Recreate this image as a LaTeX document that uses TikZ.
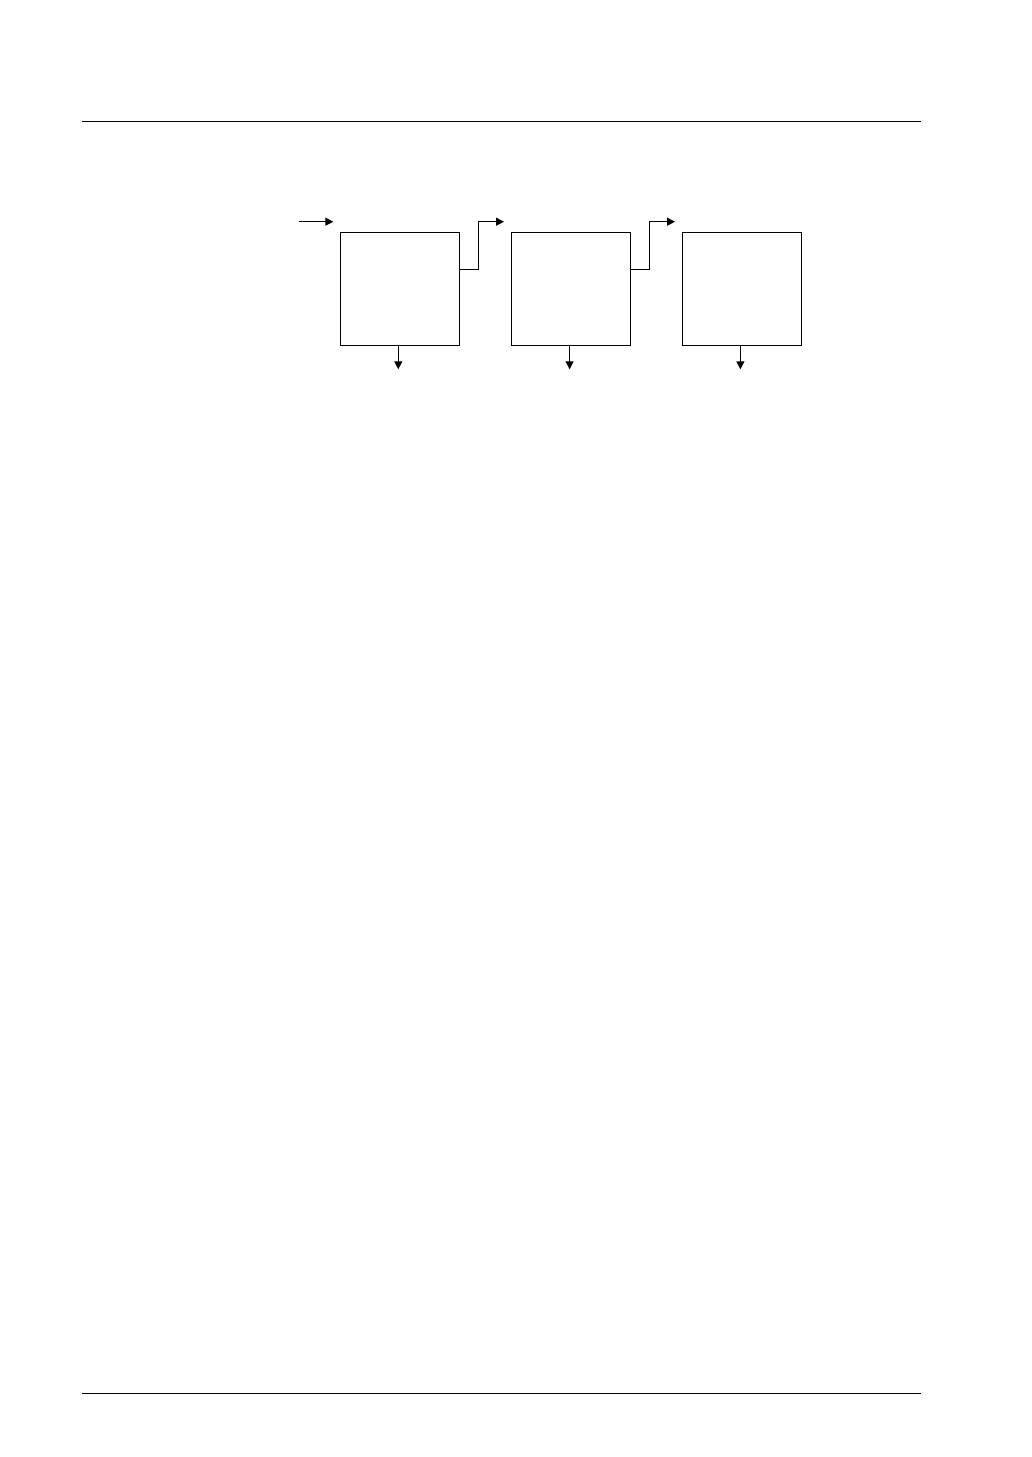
\documentclass[tikz,border=0pt]{standalone}
\usepackage{tikz}
\usetikzlibrary{positioning}
\usetikzlibrary{arrows.meta}
\pgfdeclarelayer{nodelayer}
\pgfdeclarelayer{edgelayer}
\pgfsetlayers{nodelayer,edgelayer,main}
\tikzset{
    none/.style = {inner sep=0pt},
    unit/.style = {draw, line width=0.6pt, minimum width=68.9pt, minimum height=65.1pt, inner sep=0pt}
}
\begin{document}
\begin{tikzpicture}[x=0.5774pt, y=-0.5774pt]
    % Set arrow tip globally
    \tikzset{>={Triangle[length=4.6pt, width=4.6pt]}}
    \useasboundingbox (0, 0) rectangle (1031, 1457);

    \begin{pgfonlayer}{nodelayer}
        \node [style=unit] (0) at (399.7, 288.7) {};
        \node [style=unit] (1) at (570.8, 288.7) {};
        \node [style=unit] (2) at (742, 288.7) {};
        \node [style=none] (3) at (299, 221.7) {};
        \node [style=none] (4) at (333.3, 221.7) {};
        \node [style=none] (5) at (459.3, 269.3) {};
        \node [style=none] (6) at (478.3, 269.3) {};
        \node [style=none] (7) at (478.3, 221.7) {};
        \node [style=none] (8) at (504, 221.7) {};
        \node [style=none] (9) at (630.7, 269.3) {};
        \node [style=none] (10) at (649.3, 269.3) {};
        \node [style=none] (11) at (649.3, 221.7) {};
        \node [style=none] (12) at (675, 221.7) {};
        \node [style=none] (13) at (398.3, 369.3) {};
        \node [style=none] (14) at (569.6, 369.3) {};
        \node [style=none] (15) at (740.4, 369.3) {};
        \node [style=none] (16) at (82, 121.3) {};
        \node [style=none] (17) at (920.7, 121.3) {};
        \node [style=none] (18) at (82, 1393.3) {};
        \node [style=none] (19) at (920.7, 1393.3) {};
    \end{pgfonlayer}
    \begin{pgfonlayer}{edgelayer}
        \draw [->, line width=0.6pt] (3.center) to (4.center);
        \draw [->, line width=0.6pt] (5.center) to (6.center) to (7.center) to (8.center);
        \draw [->, line width=0.6pt] (9.center) to (10.center) to (11.center) to (12.center);
        \draw [->, line width=0.6pt] (0.south -| 13.center) to (13.center);
        \draw [->, line width=0.6pt] (1.south -| 14.center) to (14.center);
        \draw [->, line width=0.6pt] (2.south -| 15.center) to (15.center);
        \draw [line width=0.6pt] (16.center) to (17.center);
        \draw [line width=0.6pt] (18.center) to (19.center);
    \end{pgfonlayer}
\end{tikzpicture}
\end{document}
